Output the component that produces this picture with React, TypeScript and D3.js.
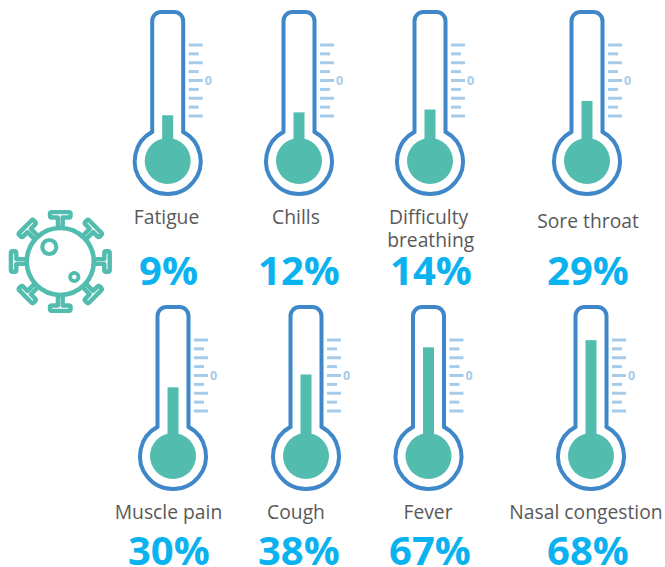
import React from "react";
import * as d3 from "d3";

const categories = ["Fatigue", "Chills", "Difficulty|breathing", "Sore throat", "Muscle pain", "Cough", "Fever", "Nasal congestion"];
const percents = [9, 12, 14, 29, 30, 38, 67, 68];
// mercury height as drawn in the picture (gauge units, 0 = bulb centre, 100 = tube top)
const levels = [32, 34, 36, 42, 48, 57, 76, 81];
const centerX = [167.7, 299, 430, 587, 173, 306, 428.5, 591];
const labelX = [166.5, 296, 430.7, 588, 168.5, 296, 428, 586];
const percentX = [168.5, 299, 431, 588, 168.8, 298.8, 430, 588];
const rowBulbY = [161, 161, 161, 161, 456, 456, 456, 456];
const gaugeTicks = [0, 1, 2, 3, 4, 5, 6, 7, 8];

const BLUE = "#3f87c8";
const TEAL = "#52bcae";
const TICK = "#a5cbe9";
const CYAN = "#0bb2f0";
const FONT = "'Open Sans', sans-serif";

const levelScale = d3.scaleLinear().domain([0, 100]).range([0, 143]);
const tickScale = d3.scaleLinear().domain([0, 8]).range([116, 45]);

function Thermometer({ i }: { i: number }) {
  const cx = centerX[i];
  const cy = rowBulbY[i];
  const half = 15.5;
  const r = 33;
  const top = -149;
  const joinY = -Math.sqrt(r * r - half * half);
  const outline = d3.path();
  outline.moveTo(-half, joinY);
  outline.lineTo(-half, top + 9);
  outline.arcTo(-half, top, -half + 9, top, 9);
  outline.lineTo(half - 9, top);
  outline.arcTo(half, top, half, top + 9, 9);
  outline.lineTo(half, joinY);
  const a0 = Math.atan2(joinY, half);
  const a1 = Math.atan2(joinY, -half);
  outline.arc(0, 0, r, a0, a1, false);
  outline.closePath();
  const h = levelScale(levels[i]);
  return (
    <g transform={`translate(${cx},${cy})`}>
      <path d={outline.toString()} fill="#fff" stroke={BLUE} strokeWidth={4} />
      <rect x={-5.5} y={-h} width={11} height={h} fill={TEAL} />
      <circle r={23} fill={TEAL} />
      {gaugeTicks.map((t) => (
        <line
          key={t}
          x1={21}
          x2={t % 2 === 0 ? 35 : 31}
          y1={-tickScale(t)}
          y2={-tickScale(t)}
          stroke={TICK}
          strokeWidth={3}
        />
      ))}
      <text x={37} y={-76} fontFamily={FONT} fontSize={12.5} fontWeight={700} fill={TICK}>0</text>
    </g>
  );
}

function Virus() {
  const spikes = d3.range(8).map((k) => k * 45);
  const t = "M-2.4,-33 L-2.4,-44 L-8.5,-44 Q-10.3,-44 -10.3,-45.8 L-10.3,-47.6 Q-10.3,-49.4 -8.5,-49.4 L8.5,-49.4 Q10.3,-49.4 10.3,-47.6 L10.3,-45.8 Q10.3,-44 8.5,-44 L2.4,-44 L2.4,-33";
  return (
    <g transform="translate(60.3,261.5)" fill="none" stroke={TEAL}>
      {spikes.map((a) => (
        <path key={a} d={t} transform={`rotate(${a})`} fill="#fff" strokeWidth={4.4} strokeLinejoin="round" />
      ))}
      <circle r={33.5} strokeWidth={4.6} />
      <circle cx={-11} cy={-14.5} r={7} strokeWidth={4.2} />
      <circle cx={14} cy={15.5} r={4.2} strokeWidth={3.8} />
    </g>
  );
}

export default function App() {
  return (
    <svg width={665} height={567} style={{ position: "absolute", left: 0, top: 0 }}>
      <Virus />
      {categories.map((c, i) => (
        <Thermometer key={c} i={i} />
      ))}
      {categories.map((c, i) => {
        const lines = c.split("|");
        const base = i < 4 ? 224 : 519;
        return (
          <text key={c} textAnchor="middle" fontFamily={FONT} fontSize={19.3} fill="#595959">
            {lines.map((l, k) => (
              <tspan key={l} x={lines.length > 1 && k === 0 ? labelX[i] - 2 : labelX[i]} y={lines.length > 1 ? base + k * 23 : i === 3 ? base + 4 : base}>{l}</tspan>
            ))}
          </text>
        );
      })}
      {percents.map((p, i) => (
        <text key={p} x={percentX[i]} y={i < 4 ? 284.5 : 564.5} textAnchor="middle" fontFamily={FONT} fontSize={40} fontWeight={700} fill={CYAN}>
          {p}%
        </text>
      ))}
    </svg>
  );
}
